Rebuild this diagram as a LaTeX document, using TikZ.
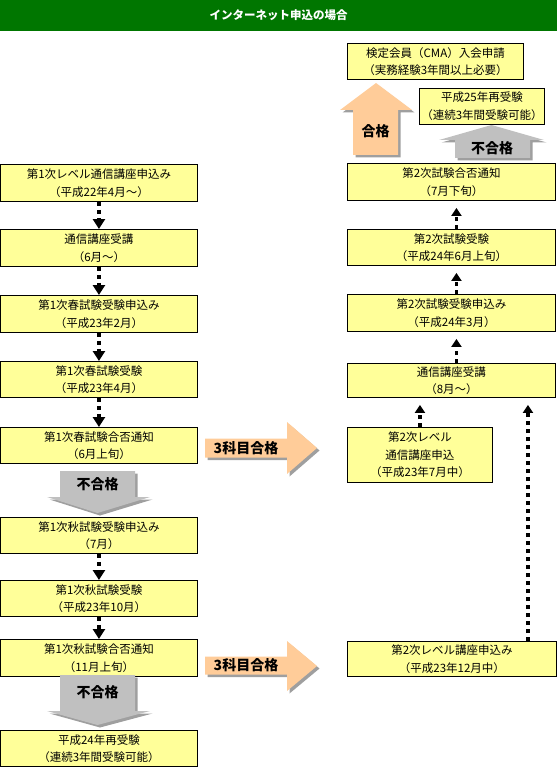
\documentclass[tikz,border=0pt]{standalone}
\usepackage{fontspec}
\setmainfont{Noto Sans CJK JP}
\usetikzlibrary{arrows.meta,calc}

\definecolor{boxyellow}{RGB}{255,255,153}
\definecolor{headgreen}{RGB}{0,118,0}
\definecolor{passorange}{RGB}{255,204,153}
\definecolor{failgray}{RGB}{192,192,192}

\begin{document}
\begin{tikzpicture}[x=1pt,y=-1pt,
  stagebox/.style={draw,fill=boxyellow,line width=0.9pt,anchor=north west,
    align=center,inner sep=0pt,font=\fontsize{11.5}{17.5}\selectfont},
  lcol/.style={stagebox,minimum width=197pt,minimum height=37pt},
  rcol/.style={stagebox,minimum width=208pt,minimum height=37pt},
  dotdown/.style={line width=3.6pt,dash pattern=on 4pt off 4pt,
    -{Triangle[width=12pt,length=10pt]}},
  dotup/.style={line width=3.6pt,dash pattern=on 4pt off 4pt,
    -{Triangle[width=10pt,length=8pt]},shorten >=7pt},
  blockshadow/.style={preaction={fill=gray!75,
    transform canvas={shift={(2.5pt,-2.5pt)}}}},
  blocklabel/.style={font=\bfseries\fontsize{14}{15}\selectfont}]
  \useasboundingbox (0,0) rectangle (557,767);

  % header
  \fill[headgreen] (0,0) rectangle (557,31);
  \node[text=white,font=\bfseries\fontsize{11.5}{12}\selectfont] (title) at (278.5,15.5) {インターネット申込の場合};

  % first level, left column
  \node[lcol] (L1) at (0,164) {第1次レベル通信講座申込み\\（平成22年4月～）};
  \node[lcol] (L2) at (0,229) {通信講座受講\\（6月～）};
  \node[lcol] (L3) at (0,295) {第1次春試験受験申込み\\（平成23年2月）};
  \node[lcol,minimum height=36pt] (L4) at (0,361) {第1次春試験受験\\（平成23年4月）};
  \node[lcol,minimum height=36pt] (L5) at (0,427) {第1次春試験合否通知\\（6月上旬）};
  \node[lcol,minimum height=36pt] (L6) at (0,517) {第1次秋試験受験申込み\\（7月）};
  \node[lcol,minimum height=36pt] (L7) at (0,580) {第1次秋試験受験\\（平成23年10月）};
  \node[lcol] (L8) at (0,639) {第1次秋試験合否通知\\（11月上旬）};
  \node[lcol,minimum height=36pt] (L9) at (0,730) {平成24年再受験\\（連続3年間受験可能）};

  \draw[dotdown] (L1.south) -- (L2.north);
  \draw[dotdown] (L2.south) -- (L3.north);
  \draw[dotdown] (L3.south) -- (L4.north);
  \draw[dotdown] (L4.south) -- (L5.north);
  \draw[dotdown] (L6.south) -- (L7.north);
  \draw[dotdown] (L7.south) -- (L8.north);

  % failed: go down
  \fill[failgray,blockshadow] (60,471) -- (135,471) -- (135,497) -- (150,497)
    -- (97.5,513) -- (47,497) -- (60,497) -- cycle;
  \node[blocklabel] (fail1) at (97.5,484) {不合格};
  \fill[failgray,blockshadow] (60,675) -- (135,675) -- (135,711) -- (150,711)
    -- (97.5,725) -- (47,711) -- (60,711) -- cycle;
  \node[blocklabel] (fail2) at (97.5,692) {不合格};

  % passed: go right
  \fill[passorange,blockshadow] (205,438.5) -- (287,438.5) -- (287,422)
    -- (317,448) -- (287,474) -- (287,457.5) -- (205,457.5) -- cycle;
  \node[blocklabel] (pass1) at (246,448) {3科目合格};
  \fill[passorange,blockshadow] (205,656.5) -- (287,656.5) -- (287,641)
    -- (317,666) -- (287,691) -- (287,674.5) -- (205,674.5) -- cycle;
  \node[blocklabel] (pass2) at (246,665.5) {3科目合格};

  % second level, right column
  \node[stagebox,minimum width=176pt,minimum height=36pt] (R0) at (347,43) {検定会員（CMA）入会申請\\（実務経験3年間以上必要）};
  \node[stagebox,minimum width=125pt,minimum height=36pt] (R9) at (419,88) {平成25年再受験\\（連続3年間受験可能）};
  \node[rcol] (R5) at (347,163) {第2次試験合否通知\\（7月下旬）};
  \node[rcol,minimum height=36pt] (R4) at (347,229) {第2次試験受験\\（平成24年6月上旬）};
  \node[rcol] (R3) at (347,294) {第2次試験受験申込み\\（平成24年3月）};
  \node[rcol,minimum height=34pt] (R2) at (347,363) {通信講座受講\\（8月～）};
  \node[stagebox,minimum width=145pt,minimum height=55pt] (R1a) at (347,427) {第2次レベル\\通信講座申込\\（平成23年7月中）};
  \node[stagebox,minimum width=209pt,minimum height=35pt] (R1b) at (347,641) {第2次レベル講座申込み\\（平成23年12月中）};
  \coordinate (R1bx) at ([xshift=76pt]R1b.north);

  \draw[dotup] ([xshift=5pt]R2.north) -- ([xshift=5pt]R3.south);
  \draw[dotup] ([xshift=5pt]R3.north) -- ([xshift=5pt]R4.south);
  \draw[dotup] ([xshift=5pt]R4.north) -- ([xshift=5pt]R5.south);
  \draw[dotup] (R1a.north) -- (R1a.north |- R2.south);
  \draw[dotup] (R1bx) -- (R1bx |- R2.south);

  % result of the second level
  \fill[passorange,blockshadow] (353,155) -- (353,110) -- (340,110) -- (376,83)
    -- (412,110) -- (398,110) -- (398,155) -- cycle;
  \node[blocklabel] (pass3) at (375.5,131) {合格};
  \fill[failgray,blockshadow] (455,158) -- (455,140) -- (439,140) -- (491.5,125)
    -- (544,140) -- (530,140) -- (530,158) -- cycle;
  \node[blocklabel] (fail3) at (492,148) {不合格};
\end{tikzpicture}
\end{document}
